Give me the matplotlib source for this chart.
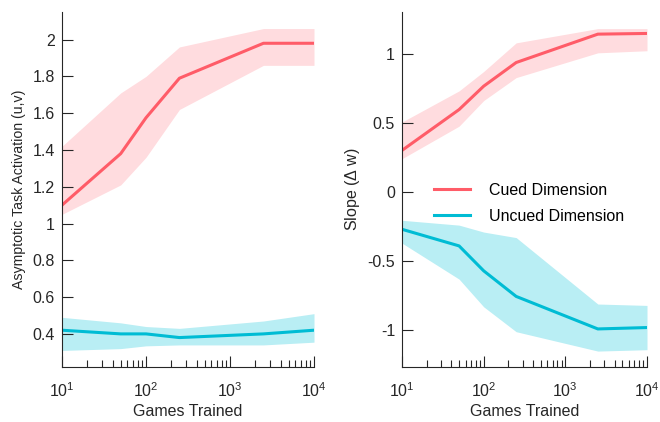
import numpy as np
import matplotlib
matplotlib.use('Agg')
import matplotlib.pyplot as plt

plt.rcParams['font.family'] = ['Liberation Sans', 'DejaVu Sans']
plt.rcParams['mathtext.fontset'] = 'custom'
plt.rcParams['mathtext.rm'] = 'Liberation Sans'
plt.rcParams['mathtext.it'] = 'Liberation Sans'

games = [10, 50, 100, 250, 2500, 10000]

# left panel: asymptotic task activation
act_cued = [1.10, 1.38, 1.575, 1.79, 1.98, 1.98]
act_cued_hi = [1.42, 1.71, 1.80, 1.96, 2.06, 2.06]
act_cued_lo = [1.05, 1.21, 1.36, 1.62, 1.86, 1.86]
act_uncued = [0.42, 0.40, 0.40, 0.38, 0.40, 0.42]
act_uncued_hi = [0.49, 0.46, 0.44, 0.43, 0.47, 0.51]
act_uncued_lo = [0.31, 0.32, 0.335, 0.34, 0.34, 0.355]

# right panel: slope
slope_cued = [0.30, 0.595, 0.764, 0.935, 1.14, 1.145]
slope_cued_hi = [0.505, 0.73, 0.87, 1.077, 1.18, 1.18]
slope_cued_lo = [0.24, 0.475, 0.66, 0.826, 1.005, 1.02]
slope_uncued = [-0.27, -0.39, -0.57, -0.755, -0.99, -0.98]
slope_uncued_hi = [-0.205, -0.24, -0.29, -0.33, -0.81, -0.82]
slope_uncued_lo = [-0.37, -0.63, -0.83, -1.01, -1.15, -1.14]

red = '#ff5c68'
red_fill = '#ffdcdf'
cyan = '#00bcd4'
cyan_fill = '#b9eef4'
txt = '#262626'

fig = plt.figure(figsize=(6.6, 4.22), dpi=100)
ax1 = fig.add_axes([62 / 660, 1 - 367 / 422, 252 / 660, 355 / 422])
ax2 = fig.add_axes([402 / 660, 1 - 367 / 422, 245 / 660, 355 / 422])


def style(ax):
    ax.set_xscale('log')
    ax.set_xlim(10, 10000)
    for s in ['top', 'right']:
        ax.spines[s].set_visible(False)
    for s in ['left', 'bottom']:
        ax.spines[s].set_color(txt)
        ax.spines[s].set_linewidth(0.8)
    ax.tick_params(which='major', direction='in', length=8, width=0.8,
                   colors=txt, labelsize=11.5, pad=5)
    ax.tick_params(which='minor', direction='in', length=5, width=0.8,
                   colors=txt)
    ax.tick_params(axis='x', which='major', pad=10)
    ax.set_xlabel('Games Trained', fontsize=11.5, color=txt, labelpad=3)
    ax.yaxis.set_major_formatter(matplotlib.ticker.FormatStrFormatter('%g'))


ax1.fill_between(games, act_cued_lo, act_cued_hi, color=red_fill, lw=0)
ax1.fill_between(games, act_uncued_lo, act_uncued_hi, color=cyan_fill, lw=0)
ax1.plot(games, act_cued, color=red, lw=2.2)
ax1.plot(games, act_uncued, color=cyan, lw=2.2)
style(ax1)
ax1.set_ylim(0.22, 2.15)
ax1.set_yticks(np.arange(0.4, 2.01, 0.2))
ax1.set_ylabel('Asymptotic Task Activation (u,v)', fontsize=10.2, color=txt,
               labelpad=5)

ax2.fill_between(games, slope_cued_lo, slope_cued_hi, color=red_fill, lw=0)
ax2.fill_between(games, slope_uncued_lo, slope_uncued_hi, color=cyan_fill, lw=0)
ax2.plot(games, slope_cued, color=red, lw=2.2, label='Cued Dimension')
ax2.plot(games, slope_uncued, color=cyan, lw=2.2, label='Uncued Dimension')
style(ax2)
ax2.set_ylim(-1.265, 1.30)
ax2.set_yticks([-1, -0.5, 0, 0.5, 1])
ax2.set_ylabel('Slope ($\\Delta$ w)', fontsize=11.5, color=txt)
ax2.legend(frameon=False, fontsize=11.5, handlelength=2.3, handletextpad=1.2,
           labelspacing=0.7, loc='upper left', bbox_to_anchor=(0.07, 0.56))

fig.savefig('out.png', dpi=100)
